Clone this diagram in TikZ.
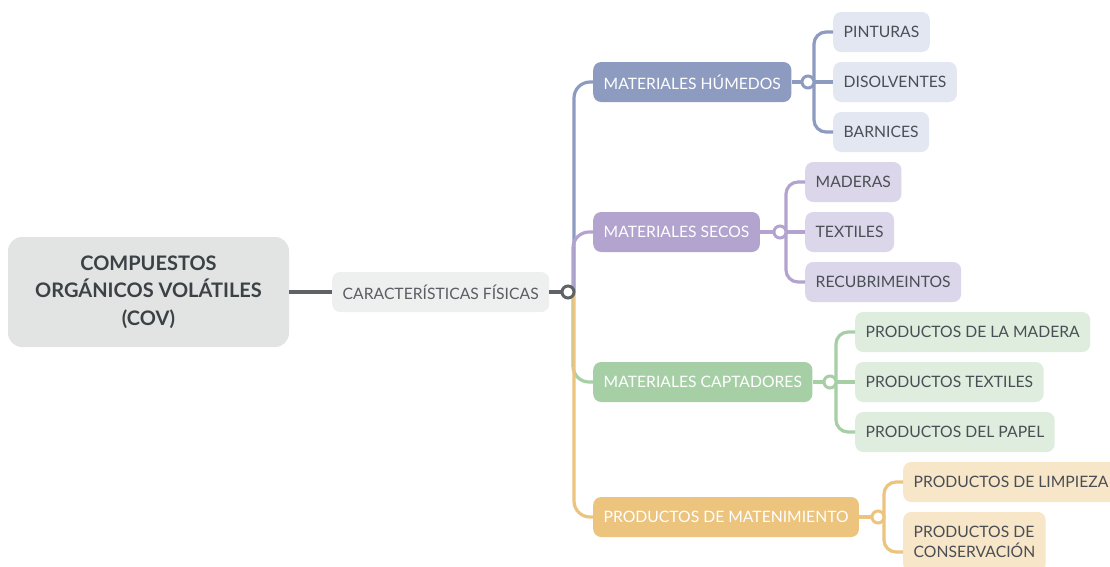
\documentclass[tikz,border=0pt]{standalone}
\usepackage{fontspec}
\setmainfont{Lato}
\definecolor{rootfill}{HTML}{E2E4E3}
\definecolor{roottext}{HTML}{3B4145}
\definecolor{charfill}{HTML}{EEF0F0}
\definecolor{chartext}{HTML}{5A5E62}
\definecolor{grayline}{HTML}{5F6266}
\definecolor{humc}{HTML}{8E9BC0}
\definecolor{huml}{HTML}{E3E7F1}
\definecolor{secc}{HTML}{B3A3CF}
\definecolor{secl}{HTML}{DCD6EA}
\definecolor{capc}{HTML}{A7CFA6}
\definecolor{capl}{HTML}{DEEDDD}
\definecolor{manc}{HTML}{ECC47D}
\definecolor{manl}{HTML}{F7E6C8}
\definecolor{childtext}{HTML}{4A4E55}
\begin{document}
\begin{tikzpicture}[x=1pt,y=-1pt,
  every node/.style={font=\fontsize{15.7}{20}\selectfont},
  rootbox/.style={fill=rootfill, rounded corners=14pt, minimum width=281pt, minimum height=110pt, align=center, text=roottext, font=\fontsize{20}{27.5}\selectfont\bfseries},
  anybox/.style={rounded corners=8pt, minimum height=40pt, inner xsep=10.5pt, anchor=west},
  charbox/.style={anybox, fill=charfill, text=chartext},
  branch/.style={anybox, fill=#1, text=white},
  leaf/.style={anybox, fill=#1, text=childtext},
  hub/.style={circle, draw=#1, fill=white, line width=3pt, minimum size=12pt, inner sep=0pt},
  conn/.style={draw=#1, line width=3.2pt},
]
\clip (0,0) rectangle (1110,566);
\fill[white] (0,0) rectangle (1110,566);

% nodes
\node[rootbox] (root) at (148.5,292) {COMPUESTOS\\ORGÁNICOS VOLÁTILES\\(COV)};
\node[charbox] (car) at (332,292) {CARACTERÍSTICAS FÍSICAS};

\node[branch=humc] (hum) at (593,82) {MATERIALES HÚMEDOS};
\node[branch=secc] (sec) at (593,232) {MATERIALES SECOS};
\node[branch=capc] (cap) at (593,382) {MATERIALES CAPTADORES};
\node[branch=manc] (man) at (593,517) {PRODUCTOS DE MATENIMIENTO};

\node[leaf=huml] (pin) at (833,32) {PINTURAS};
\node[leaf=huml] (dis) at (833,82) {DISOLVENTES};
\node[leaf=huml] (bar) at (833,132) {BARNICES};

\node[leaf=secl] (mad) at (805,182) {MADERAS};
\node[leaf=secl] (tex) at (805,232) {TEXTILES};
\node[leaf=secl] (rec) at (805,282) {RECUBRIMEINTOS};

\node[leaf=capl] (pma) at (855,332) {PRODUCTOS DE LA MADERA};
\node[leaf=capl] (pte) at (855,382) {PRODUCTOS TEXTILES};
\node[leaf=capl] (ppa) at (855,432) {PRODUCTOS DEL PAPEL};

\node[leaf=manl] (pli) at (903,482) {PRODUCTOS DE LIMPIEZA};
\node[leaf=manl, align=left, minimum height=60pt] (pco) at (903,542) {PRODUCTOS DE\\CONSERVACIÓN};

% connectors
\draw[conn=grayline] (root.east) -- (car.west);
\draw[conn=grayline] (car.east) -- (568,292) coordinate (c0);

\draw[conn=humc, rounded corners=16pt] ([xshift=6pt]c0) |- (hum.west);
\draw[conn=secc, rounded corners=16pt] ([xshift=5pt]c0) |- (sec.west);
\draw[conn=capc, rounded corners=16pt] ([xshift=5pt]c0) |- (cap.west);
\draw[conn=manc, rounded corners=16pt] ([xshift=6pt]c0) |- (man.west);
\node[hub=grayline] (h0) at (c0) {};

\draw[conn=humc] (hum.east) -- (808,82) coordinate (c1);
\draw[conn=humc, rounded corners=12pt] ([xshift=6pt]c1) |- (pin.west);
\draw[conn=humc] (c1) -- (dis.west);
\draw[conn=humc, rounded corners=12pt] ([xshift=6pt]c1) |- (bar.west);
\node[hub=humc] (h1) at (c1) {};

\draw[conn=secc] (sec.east) -- (780,232) coordinate (c2);
\draw[conn=secc, rounded corners=12pt] ([xshift=6pt]c2) |- (mad.west);
\draw[conn=secc] (c2) -- (tex.west);
\draw[conn=secc, rounded corners=12pt] ([xshift=6pt]c2) |- (rec.west);
\node[hub=secc] (h2) at (c2) {};

\draw[conn=capc] (cap.east) -- (830,382) coordinate (c3);
\draw[conn=capc, rounded corners=12pt] ([xshift=6pt]c3) |- (pma.west);
\draw[conn=capc] (c3) -- (pte.west);
\draw[conn=capc, rounded corners=12pt] ([xshift=6pt]c3) |- (ppa.west);
\node[hub=capc] (h3) at (c3) {};

\draw[conn=manc] (man.east) -- (878,517) coordinate (c4);
\draw[conn=manc, rounded corners=12pt] ([xshift=6pt]c4) |- (pli.west);
\draw[conn=manc, rounded corners=12pt] ([xshift=6pt]c4) |- ([yshift=-10pt]pco.west);
\node[hub=manc] (h4) at (c4) {};
\end{tikzpicture}
\end{document}
